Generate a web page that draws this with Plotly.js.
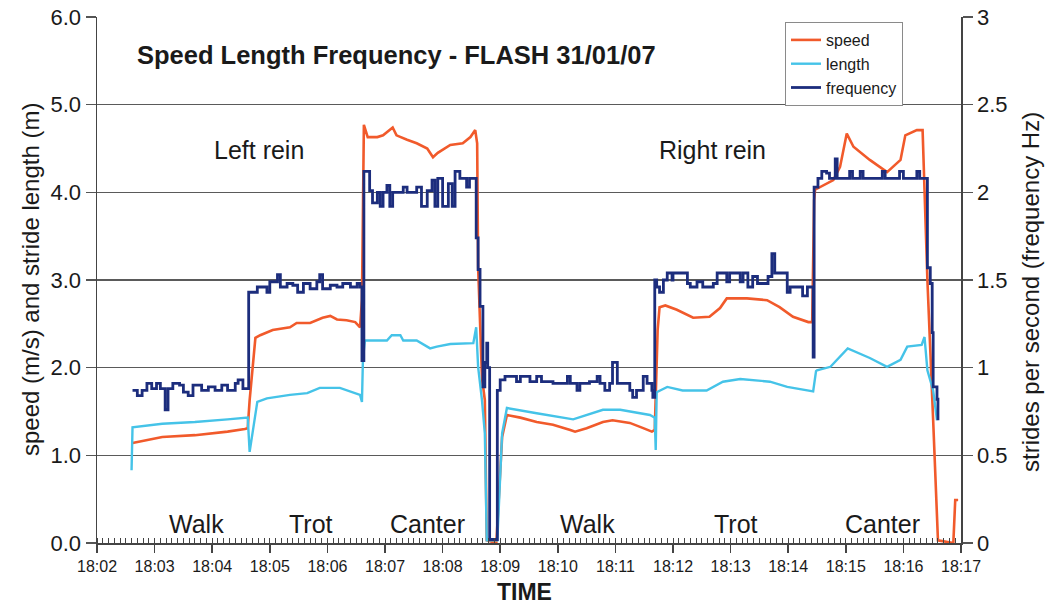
<!DOCTYPE html>
<html>
<head>
<meta charset="utf-8">
<script src="https://cdn.plot.ly/plotly-3.0.1.min.js"></script>
<style>html,body{margin:0;padding:0;background:#fff;}#chart{width:1048px;height:608px;}</style>
</head>
<body>
<div id="chart"></div>
<script>
// elapsed seconds after 18:02:00 on 31/01/07
const speedSec = [37,50,68,102,136,154,157,159,165,170,183,201,208,222,235,243,250,260,269,274,276,
  278,282,292,298,308,312,323,333,344,350,355,368,381,389,394,396,397,401,404,406,416,422,427,
  441,458,475,493,498,510,527,537,555,569,578,581,584,586,592,604,621,638,649,656,677,698,711,725,741,745,
  747,748,767,774,781,788,805,823,837,842,854,860,865,871,876,892,894,897];
const speedVal = [1.14,1.17,1.21,1.23,1.27,1.30,1.31,1.63,2.34,2.37,2.43,2.46,2.51,2.51,2.57,2.59,2.55,2.54,2.52,2.46,2.77,
  4.77,4.63,4.63,4.65,4.74,4.65,4.60,4.56,4.50,4.40,4.45,4.54,4.56,4.63,4.71,4.56,3.15,1.89,1.63,0.03,0.00,1.21,1.46,
  1.43,1.38,1.35,1.29,1.27,1.31,1.38,1.40,1.37,1.31,1.27,1.29,2.43,2.69,2.71,2.66,2.57,2.58,2.68,2.79,2.79,2.77,2.69,2.58,2.52,2.52,
  3.91,4.03,4.14,4.29,4.67,4.52,4.37,4.23,4.37,4.65,4.71,4.71,3.00,1.40,0.03,0.00,0.49,0.49];

const lengthSec = [36,37,68,102,136,157,159,167,177,201,219,232,253,274,276,277,279,302,307,316,
  319,333,347,354,368,392,395,397,401,404,406,417,422,427,458,475,496,527,545,576,
  581,582,583,594,610,635,652,670,701,719,746,749,750,764,774,782,805,823,837,844,
  859,862,865,871,875];
const lengthVal = [0.83,1.32,1.36,1.38,1.41,1.43,1.04,1.61,1.65,1.69,1.71,1.77,1.77,1.69,1.61,2.09,2.31,2.31,2.37,2.37,
  2.31,2.31,2.22,2.24,2.27,2.28,2.46,2.01,1.63,1.25,0.03,0.03,1.25,1.54,1.48,1.45,1.41,1.52,1.52,1.46,
  1.43,1.06,1.72,1.78,1.74,1.74,1.84,1.87,1.84,1.78,1.73,1.96,1.97,2.01,2.12,2.22,2.11,2.01,2.09,2.24,
  2.26,2.35,1.97,1.74,1.40];

const freqSec = [37,42,47,52,57,62,66,71,74,79,86,90,95,100,109,116,123,130,136,144,147,152,157,
  158,167,177,180,188,191,198,204,209,215,222,229,232,235,243,250,256,264,271,274,276,
  278,284,287,292,295,298,302,305,308,319,323,333,338,344,349,352,355,360,366,370,373,378,385,388,395,397,399,402,404,406,407,409,417,420,
  425,437,441,451,458,463,475,490,493,500,503,513,521,524,529,534,537,542,555,558,562,569,573,578,579,
  581,583,586,590,594,599,600,615,618,625,631,642,646,656,659,670,673,678,683,688,699,703,706,719,722,735,740,746,
  747,751,755,760,763,769,771,784,787,795,798,818,821,836,840,854,857,865,868,870,871,875,876];
const freqVal = [0.87,0.84,0.87,0.91,0.88,0.91,0.88,0.76,0.88,0.91,0.90,0.86,0.84,0.90,0.87,0.89,0.87,0.90,0.87,0.91,0.93,0.88,0.88,
  1.43,1.46,1.43,1.49,1.53,1.46,1.48,1.47,1.43,1.48,1.45,1.49,1.53,1.45,1.47,1.46,1.48,1.46,1.48,1.46,1.04,
  2.12,2.01,1.94,2.00,1.92,2.00,2.04,1.92,2.00,2.03,2.00,2.03,1.92,2.01,2.07,1.92,2.08,1.92,2.05,1.92,2.12,2.08,2.03,2.08,1.74,1.56,1.35,0.89,1.03,1.14,1.00,0.02,0.87,0.93,
  0.95,0.92,0.95,0.92,0.95,0.92,0.91,0.95,0.91,0.87,0.91,0.92,0.95,0.91,0.87,0.91,1.03,0.91,0.87,0.83,0.87,0.95,0.91,0.87,0.83,
  1.50,1.46,1.43,1.50,1.54,1.50,1.54,1.48,1.46,1.49,1.46,1.48,1.54,1.49,1.54,1.49,1.54,1.46,1.52,1.48,1.52,1.65,1.54,1.43,1.46,1.41,1.46,1.06,
  2.03,2.08,2.12,2.11,2.08,2.19,2.08,2.12,2.08,2.12,2.08,2.12,2.08,2.12,2.08,2.12,2.08,1.57,1.48,1.20,0.89,0.82,0.70];

const phaseLabels = ['Walk','Trot','Canter','Walk','Trot','Canter'];
const phaseSec = [104,223,344,511,666,818];
const reinLabels = ['Left rein','Right rein'];
const reinSec = [169,641];
const xTickLabelsFormat = '%H:%M';

function ts(s){
  const tot = 18*3600 + 120 + s;
  const h = Math.floor(tot/3600);
  const m = Math.floor((tot - h*3600)/60);
  const sec = tot - h*3600 - m*60;
  const p = n => (n<10?'0':'') + n;
  return '2007-01-31 ' + p(h) + ':' + p(m) + ':' + (sec<10?'0':'') + sec.toFixed(1);
}

const FONT = 'Liberation Sans, Arial, Helvetica, sans-serif';
const C_SPEED = '#f15a2b', C_LEN = '#45c3e8', C_FREQ = '#1c2d7d';

const traces = [
  {name:'speed', x: speedSec.map(ts), y: speedVal, type:'scatter', mode:'lines',
   line:{color:C_SPEED, width:2.6}, yaxis:'y'},
  {name:'length', x: lengthSec.map(ts), y: lengthVal, type:'scatter', mode:'lines',
   line:{color:C_LEN, width:2.4}, yaxis:'y'},
  {name:'frequency', x: freqSec.map(ts), y: freqVal, type:'scatter', mode:'lines',
   line:{color:C_FREQ, width:2.8, shape:'hv'}, yaxis:'y2'}
];

const L = 97, R = 961, T = 17, B = 543;
const px2x = px => (px - L)/(R - L);
const py2y = py => (B - py)/(B - T);

const annotations = [];
phaseLabels.forEach((t,i)=>annotations.push({text:t, x: ts(phaseSec[i]), y:0.22, xref:'x', yref:'y',
  showarrow:false, xanchor:'center', yanchor:'middle', font:{size:25, color:'#1a1a1a', family:FONT}}));
reinLabels.forEach((t,i)=>annotations.push({text:t, x: ts(reinSec[i]), y:4.48, xref:'x', yref:'y',
  showarrow:false, xanchor:'center', yanchor:'middle', font:{size:25, color:'#1a1a1a', family:FONT}}));
annotations.push({text:'speed (m/s) and stride length (m)', xref:'paper', yref:'paper',
  x: px2x(30), y: py2y(280), textangle:-90, showarrow:false, xanchor:'center', yanchor:'middle',
  font:{size:24, color:'#1a1a1a', family:FONT}});
annotations.push({text:'strides per second (frequency Hz)', xref:'paper', yref:'paper',
  x: px2x(1030), y: py2y(292), textangle:-90, showarrow:false, xanchor:'center', yanchor:'middle',
  font:{size:24, color:'#1a1a1a', family:FONT}});
annotations.push({text:'<b>TIME</b>', xref:'paper', yref:'paper',
  x: px2x(524), y: py2y(592), showarrow:false, xanchor:'center', yanchor:'middle',
  font:{size:23, color:'#1a1a1a', family:FONT}});

const layout = {
  width:1048, height:608,
  margin:{l:L, r:1048-R, t:T, b:608-B, pad:0},
  paper_bgcolor:'#ffffff', plot_bgcolor:'#ffffff',
  font:{family:FONT, color:'#1a1a1a'},
  title:{text:'<b>Speed Length Frequency - FLASH 31/01/07</b>', x:137/1048, xanchor:'left',
    y:1-55/608, yanchor:'middle', font:{size:25.5, color:'#1a1a1a', family:FONT}},
  showlegend:true,
  legend:{x:px2x(785), y:py2y(22), xanchor:'left', yanchor:'top', bgcolor:'#ffffff',
    bordercolor:'#8a8a8a', borderwidth:1, font:{size:16, color:'#1a1a1a', family:FONT}},
  xaxis:{type:'date', range:[ts(0), ts(900)], tick0: ts(0), dtick:60000, tickformat:xTickLabelsFormat,
    ticks:'outside', ticklen:8, tickwidth:1.5, tickcolor:'#444', showline:true, linecolor:'#444', linewidth:1.5,
    showgrid:false, zeroline:false, tickfont:{size:16, color:'#1a1a1a'},
    minor:{dtick:6000, ticks:'inside', ticklen:5, tickwidth:1, tickcolor:'#444', showgrid:false}},
  yaxis:{range:[0,6], dtick:1, tick0:0, tickformat:'.1f', ticks:'outside', ticklen:10, tickwidth:1.5, tickcolor:'#555',
    showline:true, linecolor:'#444', linewidth:1.5, showgrid:true, gridcolor:'#5a5a5a', gridwidth:1.4,
    zeroline:false, tickfont:{size:22, color:'#1a1a1a'}},
  yaxis2:{range:[0,3], dtick:0.5, tick0:0, overlaying:'y', side:'right', ticks:'outside', ticklen:10, tickwidth:1.5,
    tickcolor:'#555', showline:true, linecolor:'#444', linewidth:1.5, showgrid:false, zeroline:false,
    tickfont:{size:22, color:'#1a1a1a'}},
  annotations: annotations
};

Plotly.newPlot('chart', traces, layout, {displayModeBar:false, staticPlot:true});
</script>
</body>
</html>
